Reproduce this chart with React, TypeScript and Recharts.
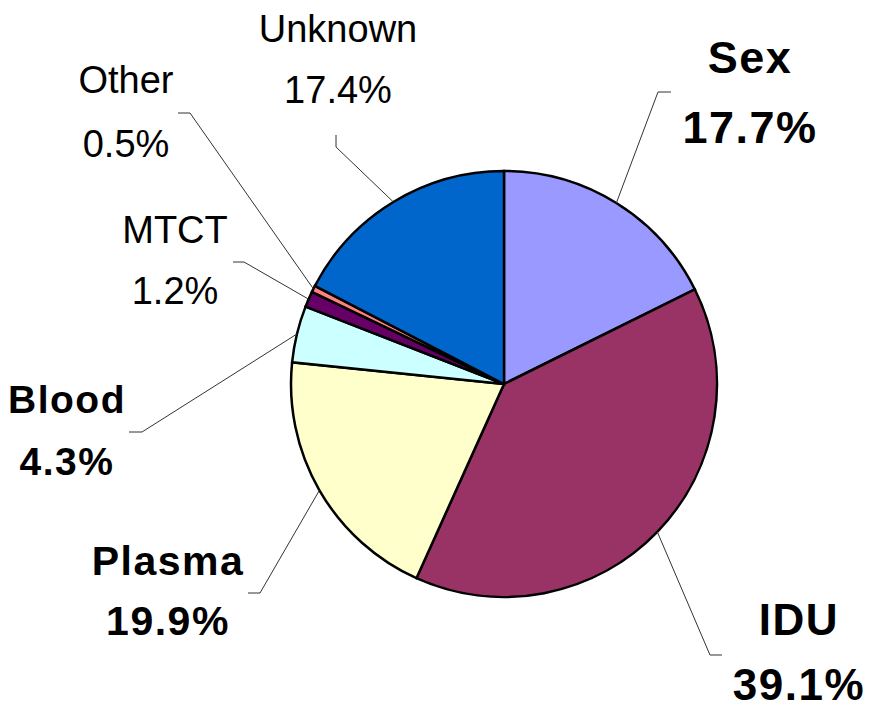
import { Cell, Pie, PieChart } from "recharts";

const categories = ["Sex", "IDU", "Plasma", "Blood", "MTCT", "Other", "Unknown"];
const shares = [17.7, 39.1, 19.9, 4.3, 1.2, 0.5, 17.4];
const sliceColors = ["#9999FF", "#993366", "#FFFFCC", "#CCFFFF", "#660066", "#FF8080", "#0066CC"];

// label placement: text centre x, baselines, leader elbow + end, font
const labelLayout: Record<
  string,
  { x: number; y1: number; y2: number; elbow: [number, number]; end: [number, number]; size: number; bold: boolean }
> = {
  Sex: { x: 750, y1: 73, y2: 143, elbow: [658, 92], end: [671, 92], size: 45, bold: true },
  IDU: { x: 799, y1: 635, y2: 700, elbow: [710, 655], end: [722, 655], size: 44, bold: true },
  Plasma: { x: 168, y1: 575, y2: 635, elbow: [260, 593], end: [248, 593], size: 41, bold: true },
  Blood: { x: 67, y1: 413, y2: 475, elbow: [142, 432], end: [129, 432], size: 39, bold: true },
  MTCT: { x: 175, y1: 243, y2: 304, elbow: [244, 262], end: [233, 262], size: 38, bold: false },
  Other: { x: 126, y1: 93, y2: 157, elbow: [190, 113], end: [178, 113], size: 38, bold: false },
  Unknown: { x: 338, y1: 42, y2: 103, elbow: [336, 147], end: [336, 135], size: 38, bold: false },
};

const data = categories.map((name, i) => ({ name, value: shares[i] }));

const RADIAN = Math.PI / 180;

function renderLabel(props: any) {
  const { cx, cy, midAngle, outerRadius, name, value } = props;
  const layout = labelLayout[name];
  if (!layout) return null;
  const sx = cx + outerRadius * Math.cos(-midAngle * RADIAN);
  const sy = cy + outerRadius * Math.sin(-midAngle * RADIAN);
  const textProps = {
    x: layout.x,
    textAnchor: "middle" as const,
    fontFamily: "'Liberation Sans', Arial, sans-serif",
    fontSize: layout.size,
    fontWeight: layout.bold ? 700 : 400,
    letterSpacing: layout.bold ? 1.5 : 0,
    fill: "#000",
  };
  return (
    <g>
      <polyline
        points={`${sx},${sy} ${layout.elbow[0]},${layout.elbow[1]} ${layout.end[0]},${layout.end[1]}`}
        fill="none"
        stroke="#333"
        strokeWidth={1}
      />
      <text {...textProps} y={layout.y1}>
        {name}
      </text>
      <text {...textProps} y={layout.y2}>
        {value.toFixed(1)}%
      </text>
    </g>
  );
}

export default function App() {
  return (
    <div style={{ position: "absolute", left: 0, top: 0, width: 872, height: 708, background: "#fff" }}>
      <PieChart width={872} height={708} margin={{ top: 0, right: 0, bottom: 0, left: 0 }}>
        <Pie
          data={data}
          dataKey="value"
          nameKey="name"
          cx={504}
          cy={384}
          outerRadius={213}
          startAngle={90}
          endAngle={-270}
          stroke="#000"
          strokeWidth={2.5}
          label={renderLabel}
          labelLine={false}
          isAnimationActive={false}
        >
          {data.map((d, i) => (
            <Cell key={d.name} fill={sliceColors[i]} />
          ))}
        </Pie>
      </PieChart>
    </div>
  );
}
